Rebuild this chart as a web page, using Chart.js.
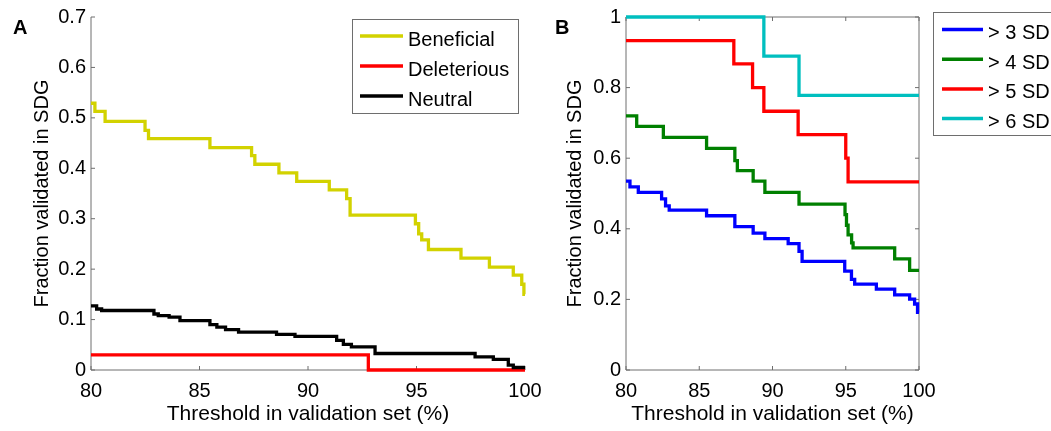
<!DOCTYPE html>
<html>
<head>
<meta charset="utf-8">
<script src="https://cdn.jsdelivr.net/npm/chart.js@4.4.1/dist/chart.umd.min.js"></script>
<style>
html,body{margin:0;padding:0;background:#fff;width:1051px;height:431px;overflow:hidden;}
.wrap{position:absolute;top:0;height:431px;}
#wa{left:0;width:565px;}
#wb{left:540px;width:511px;}
.lbl{position:absolute;font:bold 20px 'Liberation Sans',Arial,sans-serif;line-height:20px;color:#000;}
</style>
</head>
<body>
<div id="wa" class="wrap"><canvas id="ca" width="565" height="431"></canvas></div>
<div id="wb" class="wrap"><canvas id="cb" width="511" height="431"></canvas></div>
<div class="lbl" style="left:13px;top:17px">A</div>
<div class="lbl" style="left:555px;top:17px">B</div>
<script>
// ---------- tick values ----------
const xTickValues = [80, 85, 90, 95, 100];
const yTicksA = [0, 0.1, 0.2, 0.3, 0.4, 0.5, 0.6, 0.7];
const yTicksB = [0, 0.2, 0.4, 0.6, 0.8, 1];

// ---------- Panel A data ----------
const labelsA = ['Beneficial', 'Deleterious', 'Neutral'];
const beneficialX = [80, 80.18, 80.65, 82.49, 82.65, 85.48, 87.4, 87.55, 88.66, 89.48, 90.98, 91.78, 91.94, 94.95, 95.1, 95.24, 95.55, 97.05, 98.36, 99.46, 99.85, 99.95, 100];
const beneficialY = [0.529, 0.513, 0.493, 0.475, 0.459, 0.441, 0.425, 0.408, 0.391, 0.374, 0.357, 0.34, 0.307, 0.29, 0.27, 0.258, 0.239, 0.222, 0.204, 0.188, 0.17, 0.15, 0.15];
const deleteriousX = [80, 92.78, 100];
const deleteriousY = [0.03, 0, 0];
const neutralX = [80, 80.26, 80.49, 82.9, 83.1, 83.6, 84.1, 85.48, 85.8, 86.2, 86.8, 88.55, 89.4, 91.32, 91.63, 92.0, 93.09, 97.7, 98.54, 99.23, 99.46, 100];
const neutralY = [0.127, 0.121, 0.118, 0.111, 0.108, 0.105, 0.098, 0.09, 0.085, 0.08, 0.075, 0.0706, 0.0667, 0.0588, 0.051, 0.0457, 0.0327, 0.026, 0.021, 0.0098, 0.005, 0.005];

// ---------- Panel B data ----------
const labelsB = ['> 3 SD', '> 4 SD', '> 5 SD', '> 6 SD'];
const sd3X = [80, 80.27, 80.84, 82.43, 82.7, 82.95, 85.5, 87.43, 88.68, 89.48, 91.07, 91.81, 92.02, 94.93, 95.39, 95.61, 97.09, 98.34, 99.36, 99.7, 99.9, 100];
const sd3Y = [0.535, 0.519, 0.503, 0.485, 0.465, 0.453, 0.437, 0.406, 0.388, 0.372, 0.358, 0.336, 0.308, 0.28, 0.257, 0.243, 0.229, 0.213, 0.201, 0.187, 0.163, 0.163];
const sd4X = [80, 80.73, 82.55, 85.5, 87.43, 87.6, 88.68, 89.48, 91.81, 94.95, 95.05, 95.16, 95.4, 95.5, 98.34, 99.36, 100];
const sd4Y = [0.72, 0.69, 0.659, 0.628, 0.593, 0.565, 0.535, 0.503, 0.47, 0.44, 0.41, 0.383, 0.36, 0.346, 0.315, 0.282, 0.282];
const sd5X = [80, 87.36, 88.64, 89.41, 91.75, 95.0, 95.16, 100];
const sd5Y = [0.933, 0.867, 0.8, 0.733, 0.667, 0.6, 0.533, 0.533];
const sd6X = [80, 89.41, 91.81, 100];
const sd6Y = [1, 0.889, 0.778, 0.778];

const xTitle = 'Threshold in validation set (%)';
const yTitle = 'Fraction validated in SDG';

// ---------- styles ----------
const FONT = "'Liberation Sans', Arial, Helvetica, sans-serif";
const AXIS_COLOR = '#6e6e6e';
const TICK_LEN = 4;
const colorsA = ['#d2d200', '#ff0000', '#000000'];
const colorsB = ['#0000ff', '#008000', '#ff0000', '#00bfbf'];

function pts(xs, ys) { return xs.map((x, i) => ({x: x, y: ys[i]})); }

function mkDataset(label, xs, ys, color, order) {
  return {label: label, data: pts(xs, ys), borderColor: color, backgroundColor: color,
          borderWidth: 3.3, stepped: true, pointRadius: 0, fill: false, clip: false, order: order,
          borderCapStyle: 'butt', borderJoinStyle: 'miter'};
}

const axesPlugin = {
  id: 'matAxes',
  beforeDatasetsDraw(chart, args, opts) {
    const ctx = chart.ctx;
    const a = chart.chartArea;
    const xs = chart.scales.x, ys = chart.scales.y;
    ctx.save();
    ctx.strokeStyle = AXIS_COLOR;
    ctx.lineWidth = 1;
    ctx.beginPath();
    ctx.moveTo(a.left, a.top); ctx.lineTo(a.left, a.bottom); ctx.lineTo(a.right, a.bottom);
    if (opts.box) { ctx.lineTo(a.right, a.top); ctx.lineTo(a.left, a.top); }
    ctx.stroke();
    ctx.beginPath();
    xs.ticks.forEach(t => {
      const p = xs.getPixelForValue(t.value);
      ctx.moveTo(p, a.bottom); ctx.lineTo(p, a.bottom - TICK_LEN);
      if (opts.box) { ctx.moveTo(p, a.top); ctx.lineTo(p, a.top + TICK_LEN); }
    });
    ys.ticks.forEach(t => {
      const p = ys.getPixelForValue(t.value);
      ctx.moveTo(a.left, p); ctx.lineTo(a.left + TICK_LEN, p);
      if (opts.box) { ctx.moveTo(a.right, p); ctx.lineTo(a.right - TICK_LEN, p); }
    });
    ctx.stroke();
    ctx.restore();
  }
};

const legendPlugin = {
  id: 'boxLegend',
  afterDraw(chart, args, opts) {
    const ctx = chart.ctx;
    ctx.save();
    ctx.fillStyle = '#fff';
    ctx.fillRect(opts.x, opts.y, opts.w, opts.h);
    ctx.strokeStyle = AXIS_COLOR; ctx.lineWidth = 1;
    ctx.strokeRect(opts.x + 0.5, opts.y + 0.5, opts.w, opts.h);
    ctx.font = '20px ' + FONT;
    ctx.textBaseline = 'middle';
    ctx.textAlign = 'left';
    opts.labels.forEach((lab, i) => {
      const ly = opts.firstY + i * opts.rowH;
      ctx.strokeStyle = opts.colors[i];
      ctx.lineWidth = 3.5;
      ctx.beginPath();
      ctx.moveTo(opts.lineX0, ly); ctx.lineTo(opts.lineX1, ly);
      ctx.stroke();
      ctx.fillStyle = '#000';
      ctx.fillText(lab, opts.textX, ly + 4);
    });
    ctx.restore();
  }
};

function makeOptions(cfg) {
  return {
    responsive: false,
    animation: false,
    devicePixelRatio: 1,
    layout: {padding: {left: 0, top: 13, right: cfg.padRight, bottom: 0}},
    plugins: {
      legend: {display: false},
      tooltip: {enabled: false},
      matAxes: {box: cfg.box},
      boxLegend: cfg.legend
    },
    scales: {
      x: {
        type: 'linear', min: 80, max: 100,
        grid: {display: false, drawTicks: false}, border: {display: false},
        afterBuildTicks: (s) => { s.ticks = xTickValues.map(v => ({value: v})); },
        ticks: {padding: 9, color: '#000', font: {size: 20, family: FONT}, maxRotation: 0, autoSkip: false,
                callback: (v) => String(v)},
        title: {display: true, text: xTitle, color: '#000', font: {size: 21, family: FONT}, padding: {top: 0, bottom: 4}},
        afterFit: (s) => { s.height = 61; }
      },
      y: {
        type: 'linear', min: 0, max: cfg.yMax,
        grid: {display: false, drawTicks: false}, border: {display: false},
        afterBuildTicks: (s) => { s.ticks = cfg.yTicks.map(v => ({value: v})); },
        ticks: {padding: 5, color: '#000', font: {size: 20, family: FONT}, autoSkip: false,
                callback: (v) => String(v)},
        title: {display: true, text: yTitle, color: '#000', font: {size: 20, family: FONT}, padding: {top: cfg.yTitlePad, bottom: 0}},
        afterFit: (s) => { s.width = cfg.yWidth; }
      }
    }
  };
}

new Chart(document.getElementById('ca'), {
  type: 'line',
  data: {datasets: [
    mkDataset(labelsA[0], beneficialX, beneficialY, colorsA[0], 2),
    mkDataset(labelsA[1], deleteriousX, deleteriousY, colorsA[1], 1),
    mkDataset(labelsA[2], neutralX, neutralY, colorsA[2], 0)
  ]},
  options: makeOptions({
    padRight: 40, box: false, yMax: 0.7, yTicks: yTicksA, yWidth: 91, yTitlePad: 30,
    legend: {x: 352, y: 19, w: 166, h: 94, labels: labelsA, colors: colorsA,
             firstY: 36, rowH: 30, lineX0: 360, lineX1: 403, textX: 408}
  }),
  plugins: [axesPlugin, legendPlugin]
});

new Chart(document.getElementById('cb'), {
  type: 'line',
  data: {datasets: [
    mkDataset(labelsB[0], sd3X, sd3Y, colorsB[0], 3),
    mkDataset(labelsB[1], sd4X, sd4Y, colorsB[1], 2),
    mkDataset(labelsB[2], sd5X, sd5Y, colorsB[2], 1),
    mkDataset(labelsB[3], sd6X, sd6Y, colorsB[3], 0)
  ]},
  options: makeOptions({
    padRight: 132, box: true, yMax: 1, yTicks: yTicksB, yWidth: 86, yTitlePad: 23,
    legend: {x: 393, y: 12, w: 140, h: 123, labels: labelsB, colors: colorsB,
             firstY: 29.5, rowH: 29.7, lineX0: 402, lineX1: 443, textX: 448}
  }),
  plugins: [axesPlugin, legendPlugin]
});
</script>
</body>
</html>
